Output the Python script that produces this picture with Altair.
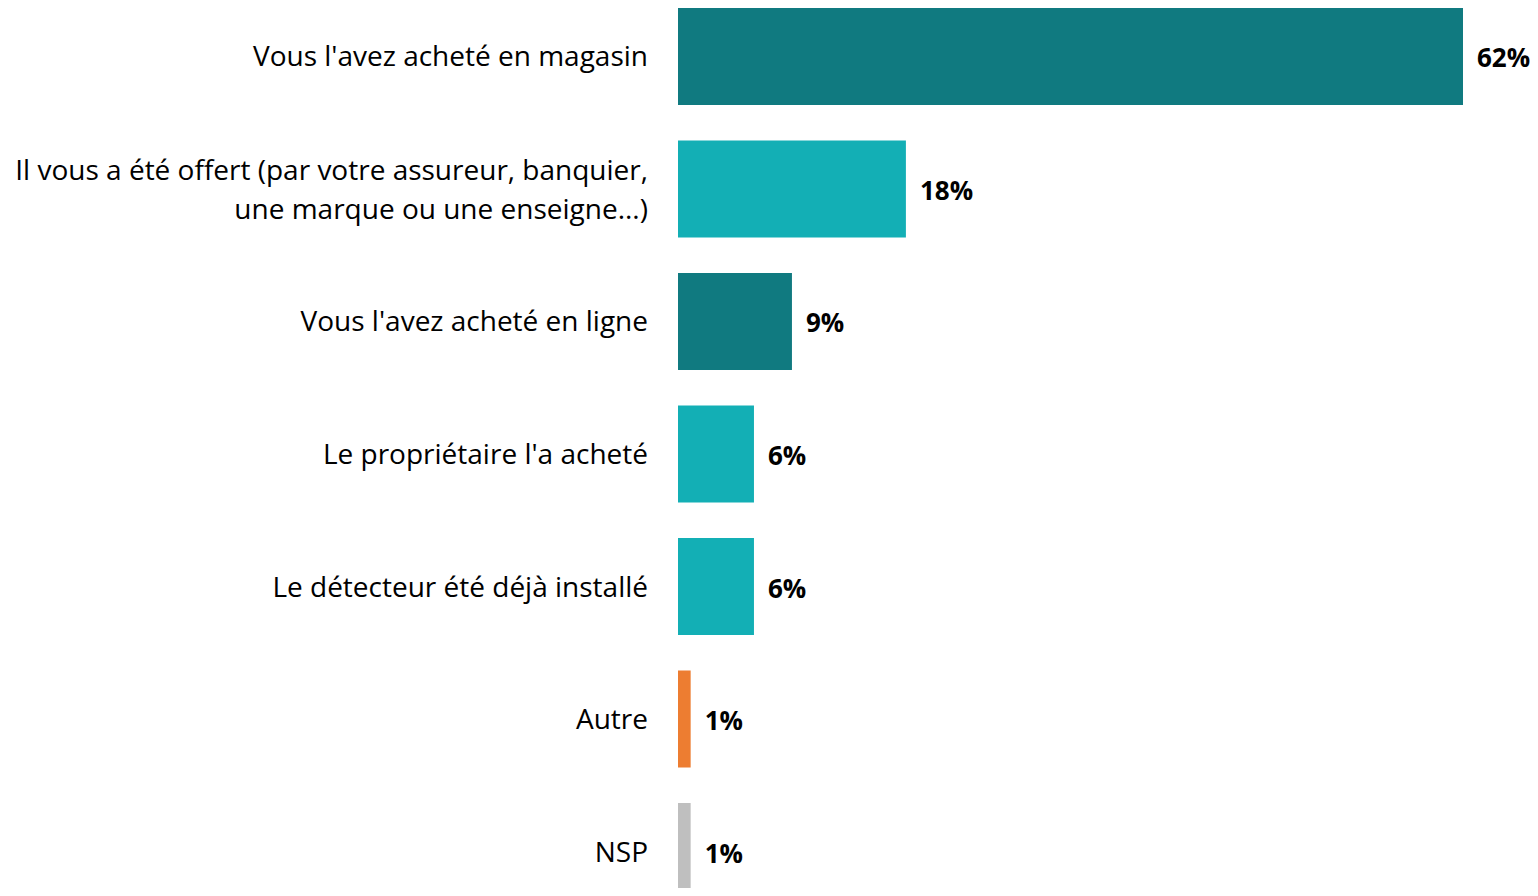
import altair as alt
import pandas as pd

categories = [
    "Vous l'avez acheté en magasin",
    "Il vous a été offert (par votre assureur, banquier,|une marque ou une enseigne...)",
    "Vous l'avez acheté en ligne",
    "Le propriétaire l'a acheté",
    "Le détecteur été déjà installé",
    "Autre",
    "NSP",
]
values = [62, 18, 9, 6, 6, 1, 1]
groups = ["achat", "autre_source", "achat", "autre_source", "autre_source", "autre", "nsp"]

group_domain = ["achat", "autre_source", "autre", "nsp"]
group_colors = ["#107A80", "#13AFB5", "#ED7D31", "#BFBFBF"]

df = pd.DataFrame({"cat": categories, "value": values, "group": groups})
df["label"] = df["value"].astype(str) + "%"
df["lines"] = df["cat"].str.count(r"\|") + 1

FONT = "Open Sans"

y = alt.Y(
    "cat:N",
    sort=categories,
    title=None,
    scale=alt.Scale(paddingInner=0.268, paddingOuter=0, range=[0, 892]),
    axis=None,
)
x = alt.X("value:Q", scale=alt.Scale(domain=[0, 62], nice=False, zero=True), axis=None)

base = alt.Chart(df)

bars = base.mark_bar().encode(
    x=x,
    y=y,
    color=alt.Color("group:N", scale=alt.Scale(domain=group_domain, range=group_colors), legend=None),
)

values_text = base.mark_text(
    align="left", baseline="middle", dx=14, dy=3, font=FONT, fontSize=26, fontWeight="bold", color="#000000"
).encode(x=x, y=y, text="label:N")

cat_single = base.transform_filter("datum.lines == 1").mark_text(
    align="right", baseline="middle", font=FONT, fontSize=28, color="#000000", lineBreak="|", dy=2
).encode(x=alt.value(-30), y=y, text="cat:N")

cat_multi = base.transform_filter("datum.lines > 1").mark_text(
    align="right", baseline="middle", font=FONT, fontSize=28, color="#000000", lineBreak="|", lineHeight=39, dy=-17
).encode(x=alt.value(-30), y=y, text="cat:N")

chart = (
    alt.layer(bars, values_text, cat_single, cat_multi)
    .properties(
        width=785,
        height=880,
        autosize=alt.AutoSizeParams(type="none"),
        padding={"left": 670, "top": 0, "right": 67, "bottom": 0},
        view=alt.ViewConfig(stroke="transparent", strokeWidth=0),
    )
    .configure_view(stroke="transparent", strokeWidth=0)
    .configure(background="#FFFFFF", style={"cell": {"stroke": "transparent", "strokeWidth": 0}})
)

chart.save("out.html", embed_options={"renderer": "svg", "actions": False})
